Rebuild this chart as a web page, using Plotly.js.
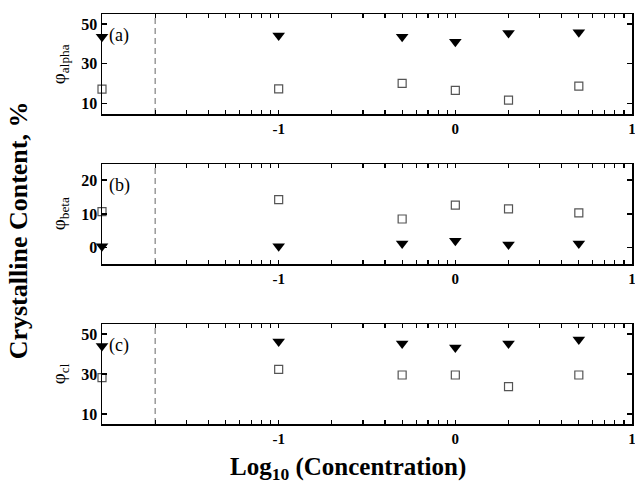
<!DOCTYPE html>
<html><head><meta charset="utf-8">
<script src="https://cdn.plot.ly/plotly-3.0.1.min.js"></script>
<style>html,body{margin:0;padding:0;background:#fff}</style>
</head><body>
<div id="chart" style="width:635px;height:495px"></div>
<script>
// Concentrations (0.01 = zero-concentration reference plotted at left edge)
const concentration = [0.01, 0.1, 0.5, 1, 2, 5];
const dashedAt = 0.02;

// Panel (a) phi_alpha
const alphaTri = [43.5, 44.2, 43.5, 41.0, 45.4, 45.8];
const alphaSq  = [17.1, 17.2, 20.0, 16.4, 11.5, 18.6];
// Panel (b) phi_beta
const betaTri  = [0.5, 0.5, 1.3, 2.1, 1.0, 1.3];
const betaSq   = [10.7, 14.2, 8.5, 12.6, 11.5, 10.3];
// Panel (c) phi_cl
const clTri    = [44.0, 46.2, 45.3, 43.3, 45.3, 47.3];
const clSq     = [28.2, 32.3, 29.5, 29.5, 23.7, 29.5];

// x ticks: decades labelled by their log10, intermediate ticks unlabelled
const xTickVals = [0.02,0.03,0.04,0.05,0.06,0.07,0.08,0.09,0.1,
                   0.2,0.3,0.4,0.5,0.6,0.7,0.8,0.9,1,
                   2,3,4,5,6,7,8,9,10];
const xTickText = ['','','','','','','','','-1',
                   '','','','','','','','','0',
                   '','','','','','','','','1'];

const panels = [
  {tri: alphaTri, sq: alphaSq, range: [4.5, 55], ticks: [10, 30, 50], label: '(a)', title: 'φ<sub>alpha</sub>'},
  {tri: betaTri,  sq: betaSq,  range: [-4.8, 24.7], ticks: [0, 10, 20], label: '(b)', title: 'φ<sub>beta</sub>'},
  {tri: clTri,    sq: clSq,    range: [5, 55], ticks: [10, 30, 50], label: '(c)', title: 'φ<sub>cl</sub>'}
];
const domains = [[0.756, 1], [0.390, 0.634], [0, 0.2439]];

const serif = 'Liberation Serif, Times New Roman, serif';
const traces = [];
const layout = {
  width: 635, height: 495,
  margin: {l: 102, r: 3, t: 14, b: 71, pad: 0},
  paper_bgcolor: '#fff', plot_bgcolor: '#fff',
  showlegend: false,
  annotations: []
};

panels.forEach((p, i) => {
  const n = i === 0 ? '' : String(i + 1);
  const xa = 'x' + n, ya = 'y' + n;
  // dashed vertical reference line across the full panel height
  traces.push({
    x: [dashedAt, dashedAt], y: p.range, xaxis: xa, yaxis: ya, type: 'scatter', mode: 'lines',
    line: {color: '#8a8a8a', width: 1.3, dash: '6px,4px'}, hoverinfo: 'skip'
  });
  traces.push({
    x: concentration, y: p.tri, xaxis: xa, yaxis: ya, type: 'scatter', mode: 'markers',
    cliponaxis: false,
    marker: {symbol: 'triangle-down', size: 11, color: '#000'}
  });
  traces.push({
    x: concentration, y: p.sq, xaxis: xa, yaxis: ya, type: 'scatter', mode: 'markers',
    cliponaxis: false,
    marker: {symbol: 'square-open', size: 8, color: '#555', line: {width: 1.2}}
  });
  layout['xaxis' + n] = {
    type: 'log', range: [-2, 1], anchor: ya, domain: [0, 1],
    tickmode: 'array', tickvals: xTickVals, ticktext: xTickText,
    ticks: 'inside', ticklen: 4, tickwidth: 1.2, tickcolor: '#000',
    showline: true, linecolor: '#000', linewidth: 1.5, mirror: 'ticks',
    showgrid: false, zeroline: false, ticklabeloverflow: 'allow',
    tickfont: {family: serif, size: 15, color: '#000', weight: 'bold'}
  };
  layout['yaxis' + n] = {
    range: p.range, anchor: xa, domain: domains[i],
    tickmode: 'array', tickvals: p.ticks,
    ticks: 'inside', ticklen: 5, tickwidth: 1.2, tickcolor: '#000',
    showline: true, linecolor: '#000', linewidth: 1.5, mirror: 'ticks',
    showgrid: false, zeroline: false, ticklabeloverflow: 'allow',
    tickfont: {family: serif, size: 16, color: '#000', weight: 'bold'}
  };
  layout.annotations.push({
    xref: xa + ' domain', yref: ya + ' domain', x: 0.01, y: 0.79,
    xanchor: 'left', yanchor: 'middle', showarrow: false,
    text: p.label, font: {family: serif, size: 18, color: '#000'}
  });
  layout.annotations.push({
    xref: 'paper', yref: 'paper', x: -0.079, y: (domains[i][0] + domains[i][1]) / 2,
    xanchor: 'center', yanchor: 'middle', showarrow: false, textangle: -90,
    text: p.title, font: {family: serif, size: 19, color: '#000'}
  });
});

layout.annotations.push({
  xref: 'paper', yref: 'paper', x: -0.158, y: 0.473,
  xanchor: 'center', yanchor: 'middle', showarrow: false, textangle: -90,
  text: 'Crystalline Content, %', font: {family: serif, size: 26, color: '#000', weight: 'bold'}
});
layout.annotations.push({
  xref: 'paper', yref: 'paper', x: 0.464, y: -0.108,
  xanchor: 'center', yanchor: 'middle', showarrow: false,
  text: 'Log<sub>10</sub> (Concentration)', font: {family: serif, size: 25, color: '#000', weight: 'bold'}
});

Plotly.newPlot('chart', traces, layout, {displayModeBar: false, staticPlot: true});
</script>
</body></html>
